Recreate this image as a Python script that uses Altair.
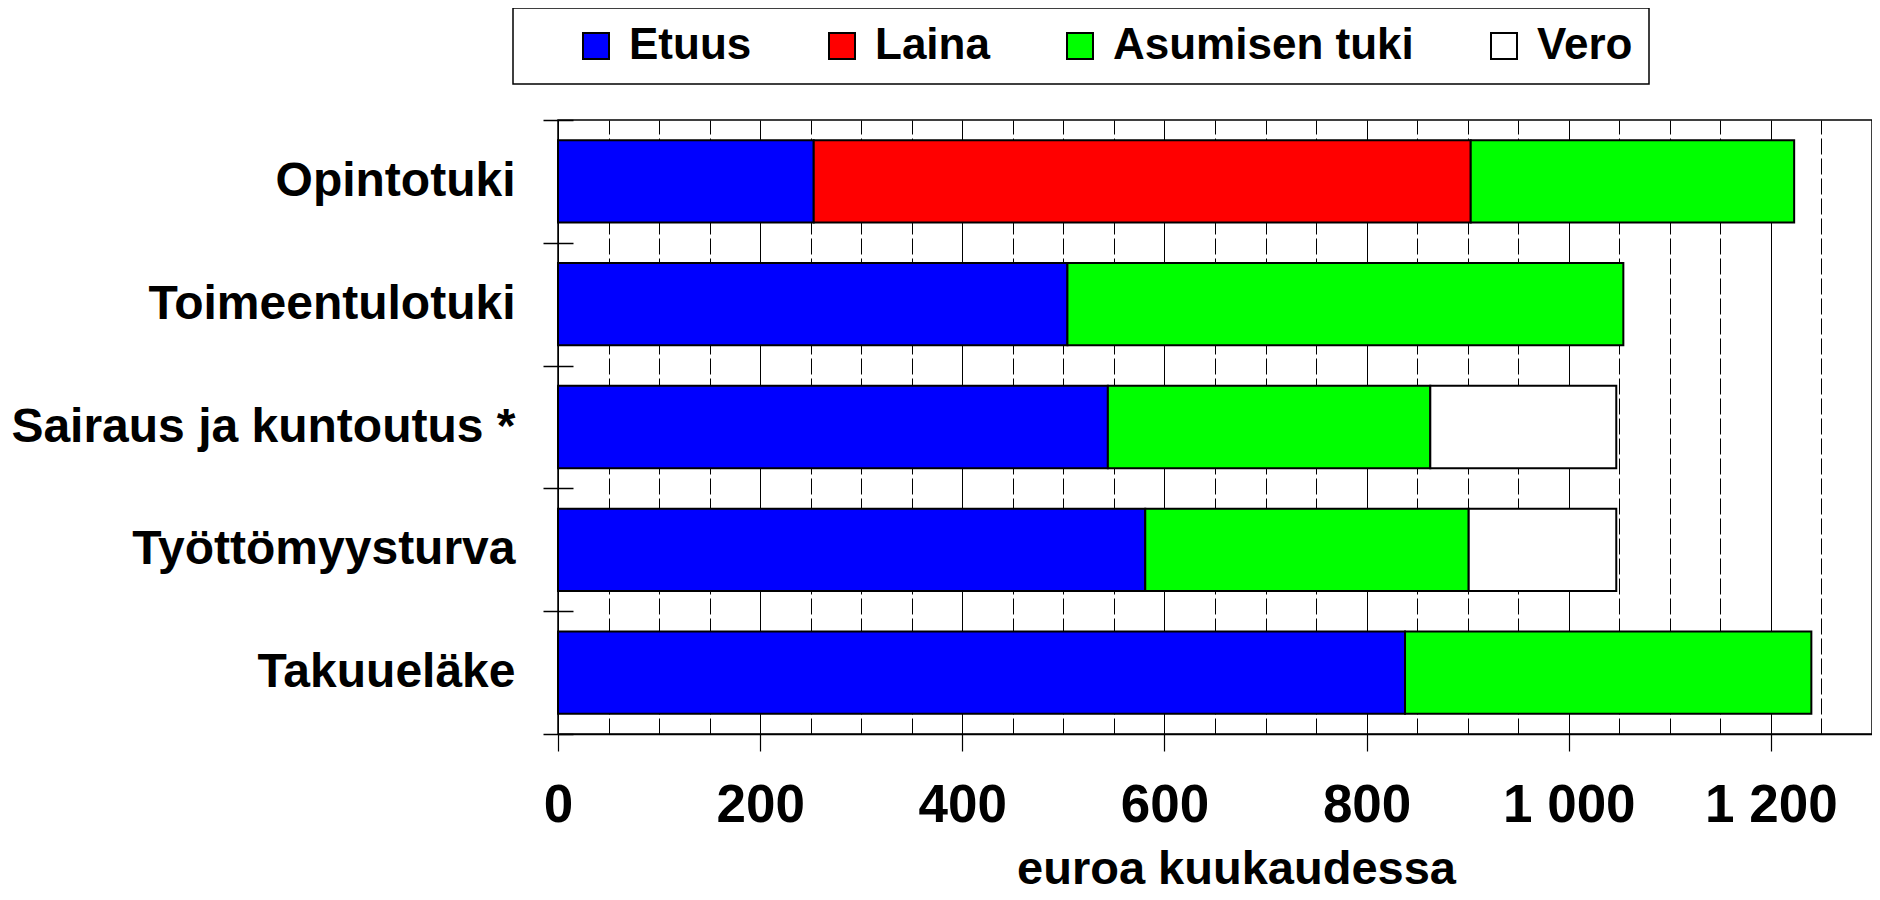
import altair as alt
import pandas as pd

categories = ["Opintotuki", "Toimeentulotuki", "Sairaus ja kuntoutus *", "Työttömyysturva", "Takuueläke"]
series = ["Etuus", "Laina", "Asumisen tuki", "Vero"]
etuus = [253, 504, 544, 581, 838]
laina = [650, 0, 0, 0, 0]
asumisen_tuki = [320, 550, 319, 320, 402]
vero = [0, 0, 184, 146, 0]
colors = ["#0000FF", "#FF0000", "#00FF00", "#FFFFFF"]
x_ticks = list(range(0, 1301, 50))

rows = []
for s_i, (s, vals) in enumerate(zip(series, [etuus, laina, asumisen_tuki, vero])):
    for c, v in zip(categories, vals):
        if v > 0:
            rows.append({"kategoria": c, "sarja": s, "arvo": v, "jarjestys": s_i})
df = pd.DataFrame(rows)

FONT = "Liberation Sans"
is200 = "datum.value % 200 === 0"

chart = alt.Chart(df).mark_bar(
    stroke="black", strokeWidth=2, height=alt.RelativeBandSize(band=0.67)
).encode(
    x=alt.X(
        "arvo:Q",
        stack="zero",
        scale=alt.Scale(domain=[0, 1300], nice=False, zero=True),
        axis=alt.Axis(
            values=x_ticks,
            labelExpr=is200 + " ? replace(format(datum.value, ',d'), ',', ' ') : ''",
            labelFont=FONT, labelFontSize=53, labelFontWeight="bold", labelColor="black",
            labelPadding=28, labelOverlap=False, labelFlush=False,
            tickSize=17, tickColor="black", tickWidth=1.2,
            tickOpacity=alt.condition(is200, alt.value(1), alt.value(0)),
            grid=True, gridColor="black", gridWidth=1,
            gridDash=alt.condition(is200, alt.value([]), alt.value([16, 4])),
            domain=True, domainColor="black", domainWidth=1.5,
            title="euroa kuukaudessa", titleFont=FONT, titleFontSize=47,
            titleFontWeight="bold", titleColor="black",
            titleBaseline="alphabetic", titleY=149, titleX=678, titleAlign="center",
        ),
    ),
    y=alt.Y(
        "kategoria:N",
        sort=categories,
        scale=alt.Scale(paddingInner=0, paddingOuter=0),
        axis=alt.Axis(
            title=None, labelFont=FONT, labelFontSize=48, labelFontWeight="bold",
            labelColor="black", labelPadding=28, labelLimit=700,
            tickBand="extent", tickSize=30, tickColor="black", tickWidth=1.5,
            offset=-15, domain=False, grid=False,
        ),
    ),
    color=alt.Color(
        "sarja:N",
        scale=alt.Scale(domain=series, range=colors),
        legend=alt.Legend(
            orient="none", legendX=-45, legendY=-112, direction="horizontal", columns=4,
            title=" ", titleOrient="left", titleFontSize=10, titlePadding=45,
            symbolType="square", symbolSize=676, symbolStrokeColor="black",
            symbolStrokeWidth=2, symbolOpacity=1,
            labelFont=FONT, labelFontSize=44, labelFontWeight="bold", labelColor="black",
            labelOffset=11, columnPadding=68, padding=16, labelLimit=600,
            labelExpr="datum.label == 'Vero' ? 'Vero   ' : datum.label",
            strokeColor="black", fillColor="white",
        ),
    ),
    order=alt.Order("jarjestys:Q", sort="ascending"),
).properties(
    width=1314,
    height=614,
    autosize=alt.AutoSizeParams(type="none"),
    padding={"left": 550, "top": 112, "right": 0, "bottom": 158},
    background="white",
).configure_view(
    stroke="black", strokeWidth=1.5
).configure_legend(
    strokeWidth=1.5
)

chart.save("out.html", embed_options={"renderer": "svg", "actions": False})
